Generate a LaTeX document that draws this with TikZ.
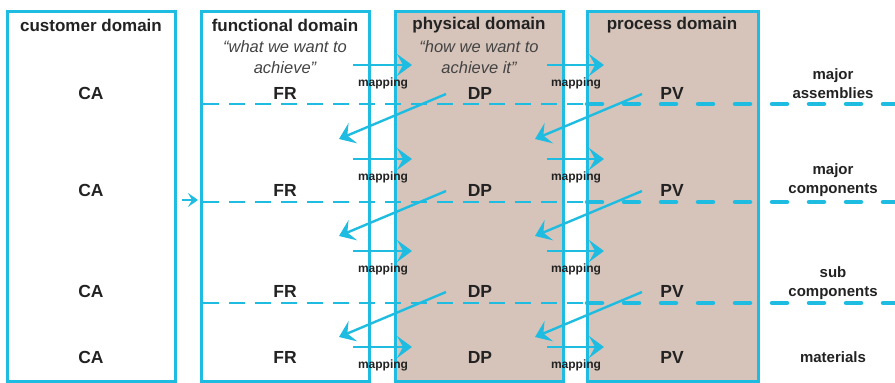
\documentclass[tikz,border=0pt]{standalone}
\usepackage{fontspec}
\setmainfont{Liberation Sans}
\usetikzlibrary{arrows.meta}
\definecolor{axd-cyan}{RGB}{30,188,225}
\definecolor{axd-tan}{RGB}{214,196,186}
\definecolor{axd-dark}{RGB}{34,34,34}

\begin{document}
\begin{tikzpicture}[x=1pt, y=-1pt,
  domainbox/.style={draw=axd-cyan, line width=3pt, minimum height=370pt, inner sep=0pt},
  domaintitle/.style={font=\fontsize{17}{20}\selectfont\bfseries, text=axd-dark},
  motto/.style={font=\fontsize{16.5}{21}\selectfont\itshape, text=axd-dark!85, align=center},
  rowitem/.style={font=\fontsize{17.5}{20}\selectfont\bfseries, text=axd-dark},
  levelname/.style={font=\fontsize{15}{19}\selectfont\bfseries, text=axd-dark, align=center},
  maplabel/.style={font=\fontsize{12}{14}\selectfont\bfseries, text=axd-dark},
  maparrow/.style={-{Stealth[length=15pt, width=22pt, inset=6pt]}, line width=2.4pt, axd-cyan},
  thinlevel/.style={axd-cyan, line width=2.8pt, dash pattern=on 16pt off 10pt},
  thicklevel/.style={axd-cyan, line width=4.5pt, line cap=round, dash pattern=on 15pt off 22pt},
]
  \useasboundingbox (0,0) rectangle (895,383);

  % Domains
  \node[domainbox, minimum width=168pt] (customer) at (91,196.5) {};
  \node[domainbox, minimum width=168pt] (functional) at (285,196.5) {};
  \node[domainbox, minimum width=168pt, fill=axd-tan] (physical) at (479,196.5) {};
  \node[domainbox, minimum width=171pt, fill=axd-tan] (process) at (673,196.5) {};

  % Level separators
  \foreach \l/\y in {1/104, 2/202, 3/303} {
    \coordinate (sep\l-a) at (203,\y);
    \coordinate (sep\l-b) at (587,\y);
    \coordinate (sep\l-c) at (895,\y);
    \draw[thinlevel] (sep\l-a) -- (sep\l-b);
    \draw[thicklevel] (sep\l-b) -- (sep\l-c);
  }

  % Titles
  \node[domaintitle] (customer-t) at (91,25) {customer domain};
  \node[domaintitle] (functional-t) at (285,25) {functional domain};
  \node[domaintitle] (physical-t) at (479,25) {physical domain};
  \node[domaintitle] (process-t) at (672,25) {process domain};
  \node[motto] (functional-m) at (285,57.5) {“what we want to\\achieve”};
  \node[motto] (physical-m) at (479,57.5) {“how we want to\\achieve it”};

  % Rows
  \foreach \r/\y/\a in {1/93/65, 2/190/159, 3/291/251, 4/357/347} {
    \node[rowitem] (ca\r) at (91,\y) {CA};
    \node[rowitem] (fr\r) at (285,\y) {FR};
    \node[rowitem] (dp\r) at (480,\y) {DP};
    \node[rowitem] (pv\r) at (672,\y) {PV};

    \coordinate (fr\r-out) at (353,\a);
    \coordinate (dp\r-in) at (412,\a);
    \coordinate (dp\r-out) at (547,\a);
    \coordinate (pv\r-in) at (604,\a);
    \draw[maparrow] (fr\r-out) -- (dp\r-in);
    \draw[maparrow] (dp\r-out) -- (pv\r-in);
    \node[maplabel] (map\r-a) at (383,\a+18) {mapping};
    \node[maplabel] (map\r-b) at (576,\a+18) {mapping};
  }

  % Back mapping to next level
  \foreach \r/\y in {1/93, 2/190, 3/291} {
    \coordinate (dp\r-back) at (446,\y+1);
    \coordinate (fr\r-next) at (339,\y+46);
    \coordinate (pv\r-back) at (642,\y+1);
    \coordinate (dp\r-next) at (535,\y+46);
    \draw[maparrow] (dp\r-back) -- (fr\r-next);
    \draw[maparrow] (pv\r-back) -- (dp\r-next);
  }

  % Customer to functional
  \coordinate (ca-out) at (182,200);
  \coordinate (fr-in) at (198,200);
  \draw[-{Stealth[length=10pt, width=14pt, inset=4pt]}, line width=2pt, axd-cyan] (ca-out) -- (fr-in);

  % Levels
  \node[levelname] (lvl1) at (833,84) {major\\assemblies};
  \node[levelname] (lvl2) at (833,180) {major\\components};
  \node[levelname] (lvl3) at (833,283) {sub\\components};
  \node[levelname] (lvl4) at (833,357) {materials};
\end{tikzpicture}
\end{document}
